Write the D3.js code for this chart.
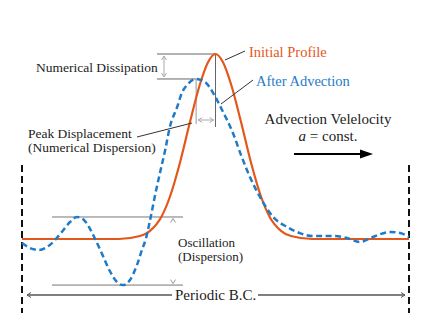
<!DOCTYPE html>
<html>
<head>
<meta charset="utf-8">
<script src="https://cdn.jsdelivr.net/npm/d3@7"></script>
<style>
  body { margin: 0; background: #fff; }
  text { font-family: "Liberation Serif", "Times New Roman", serif; font-size: 13.5px; fill: #222; }
</style>
</head>
<body>
<div id="container"></div>
<script>
// profile positions across the periodic domain (0..100) and heights (peak = 1)
var initialX = [0, 25, 30.5, 33, 36, 38.2, 40.8, 43.4, 46, 48.1, 50, 51.9, 54, 56.6, 59.2, 61.8, 64, 67, 69.5, 75, 100];
var initialY = [0, 0, 0.016, 0.043, 0.119, 0.227, 0.411, 0.632, 0.838, 0.957, 1, 0.957, 0.838, 0.632, 0.411, 0.227, 0.119, 0.043, 0.016, 0, 0];

var advectedX = [0, 2.1, 4.4, 7.2, 10.3, 12.4, 14.2, 16.0, 17.6, 18.9, 20.7, 22.7, 24.5, 26.1, 27.9, 29.7, 31.0, 32.0, 33.1, 34.4, 35.7, 37.0, 38.2, 40.1, 41.3, 42.9, 45.0, 47.3, 49.4, 51.7, 54.5, 56.8, 58.9, 61.5, 64.9, 68.5, 71.8, 75.2, 80.4, 84.0, 87.3, 90.7, 95.1, 97.7, 100];
var advectedY = [-0.022, -0.049, -0.059, -0.032, 0.038, 0.092, 0.119, 0.103, 0.054, 0, -0.081, -0.173, -0.232, -0.249, -0.222, -0.141, -0.059, 0, 0.103, 0.238, 0.362, 0.481, 0.605, 0.714, 0.789, 0.838, 0.865, 0.849, 0.789, 0.697, 0.573, 0.443, 0.335, 0.227, 0.119, 0.065, 0.032, 0.016, 0.016, 0.005, -0.016, 0.011, 0.038, 0.032, 0.011];

var labels = ["Initial Profile", "After Advection"];

var orange = "#e4571b", blue = "#1f7bc7";

var svg = d3.select("#container").append("svg")
    .attr("width", 431)
    .attr("height", 330);

var x = d3.scaleLinear().domain([0, 100]).range([22, 409]);
var y = d3.scaleLinear().domain([0, 1]).range([239, 54]);

// small open arrowhead (chevron) pointing in direction dir at (px, py)
function chevron(px, py, dir, color) {
    var s = 4, w = 2.5, d;
    if (dir == "left") d = "M" + (px + s) + "," + (py - w) + "L" + px + "," + py + "L" + (px + s) + "," + (py + w);
    if (dir == "right") d = "M" + (px - s) + "," + (py - w) + "L" + px + "," + py + "L" + (px - s) + "," + (py + w);
    if (dir == "up") d = "M" + (px - w) + "," + (py + s) + "L" + px + "," + py + "L" + (px + w) + "," + (py + s);
    if (dir == "down") d = "M" + (px - w) + "," + (py - s) + "L" + px + "," + py + "L" + (px + w) + "," + (py - s);
    svg.append("path").attr("d", d).attr("fill", "none")
        .attr("stroke", color).attr("stroke-width", 1);
}

function seg(x1, y1, x2, y2, color, w) {
    return svg.append("line")
        .attr("x1", x1).attr("y1", y1).attr("x2", x2).attr("y2", y2)
        .attr("stroke", color).attr("stroke-width", w || 1);
}

// periodic boundaries
[0, 100].forEach(function (v) {
    seg(x(v), 165, x(v), 313, "#111", 2).attr("stroke-dasharray", "7,4");
});

// numerical dissipation guides
var blueMax = d3.max(advectedY);
var bluePeakX = advectedX[advectedY.indexOf(blueMax)];
var bluePeak = x(bluePeakX), orangePeak = x(50);
seg(157, y(1), orangePeak, y(1), "#666");
seg(157, y(blueMax), bluePeak, y(blueMax), "#666");
seg(164, y(1) + 2, 164, y(blueMax) - 2, "#aaa");
chevron(164, y(1) + 2, "up", "#aaa");
chevron(164, y(blueMax) - 2, "down", "#aaa");

// peak displacement guides
seg(bluePeak, y(blueMax), bluePeak, 124, "#aaa", 1.2);
seg(orangePeak, y(1), orangePeak, 127, "#666");
seg(bluePeak + 2, 120, orangePeak - 2, 120, "#aaa");
chevron(bluePeak + 2, 120, "left", "#aaa");
chevron(orangePeak - 2, 120, "right", "#aaa");

// oscillation guides
var leftMax = d3.max(advectedY.slice(0, 10));
var leftMin = d3.min(advectedY.slice(0, 20));
seg(52, y(leftMax), 183, y(leftMax), "#777");
seg(52, y(leftMin), 183, y(leftMin), "#777");
chevron(173, y(leftMax) + 1.5, "up", "#999");
chevron(173, y(leftMin) - 1.5, "down", "#999");

// periodic B.C. arrows
seg(27, 295, 172, 295, "#555", 1.5);
seg(258, 295, 405, 295, "#555", 1.5);
chevron(27, 295, "left", "#555");
chevron(405, 295, "right", "#555");

// curves
var line = d3.line().curve(d3.curveMonotoneX)
    .x(function (d) { return x(d[0]); })
    .y(function (d) { return y(d[1]); });

svg.append("path")
    .datum(d3.zip(initialX, initialY))
    .attr("d", line)
    .attr("fill", "none")
    .attr("stroke", orange)
    .attr("stroke-width", 2.2);

svg.append("path")
    .datum(d3.zip(advectedX, advectedY))
    .attr("d", line)
    .attr("fill", "none")
    .attr("stroke", blue)
    .attr("stroke-width", 2.5)
    .attr("stroke-dasharray", "6,3.5");

// leader lines
seg(225, 60, 245, 51, "#333");
seg(221, 104, 253, 80, "#333");
seg(137, 137, 192, 123, "#333");

// labels
svg.append("text").attr("x", 249).attr("y", 57).style("font-size", "14.5px").style("fill", orange).text(labels[0]);
svg.append("text").attr("x", 256).attr("y", 86).style("font-size", "14.5px").style("fill", blue).text(labels[1]);
svg.append("text").attr("x", 36).attr("y", 72).text("Numerical Dissipation");
svg.append("text").attr("x", 28).attr("y", 138).text("Peak Displacement");
svg.append("text").attr("x", 28).attr("y", 152).text("(Numerical Dispersion)");
svg.append("text").attr("x", 328).attr("y", 124).attr("text-anchor", "middle").style("font-size", "15px").text("Advection Velelocity");
var ac = svg.append("text").attr("x", 328).attr("y", 141).attr("text-anchor", "middle").style("font-size", "15px");
ac.append("tspan").style("font-style", "italic").text("a");
ac.append("tspan").text(" = const.");
svg.append("text").attr("x", 178).attr("y", 247).style("font-size", "13px").text("Oscillation");
svg.append("text").attr("x", 178).attr("y", 261).style("font-size", "13px").text("(Dispersion)");
svg.append("text").attr("x", 175).attr("y", 300).style("font-size", "15px").text("Periodic B.C.");

// advection velocity arrow
seg(294, 154, 362, 154, "#000", 2);
svg.append("path")
    .attr("d", "M373,154L360,149.5L360,158.5Z")
    .attr("fill", "#000");
</script>
</body>
</html>
